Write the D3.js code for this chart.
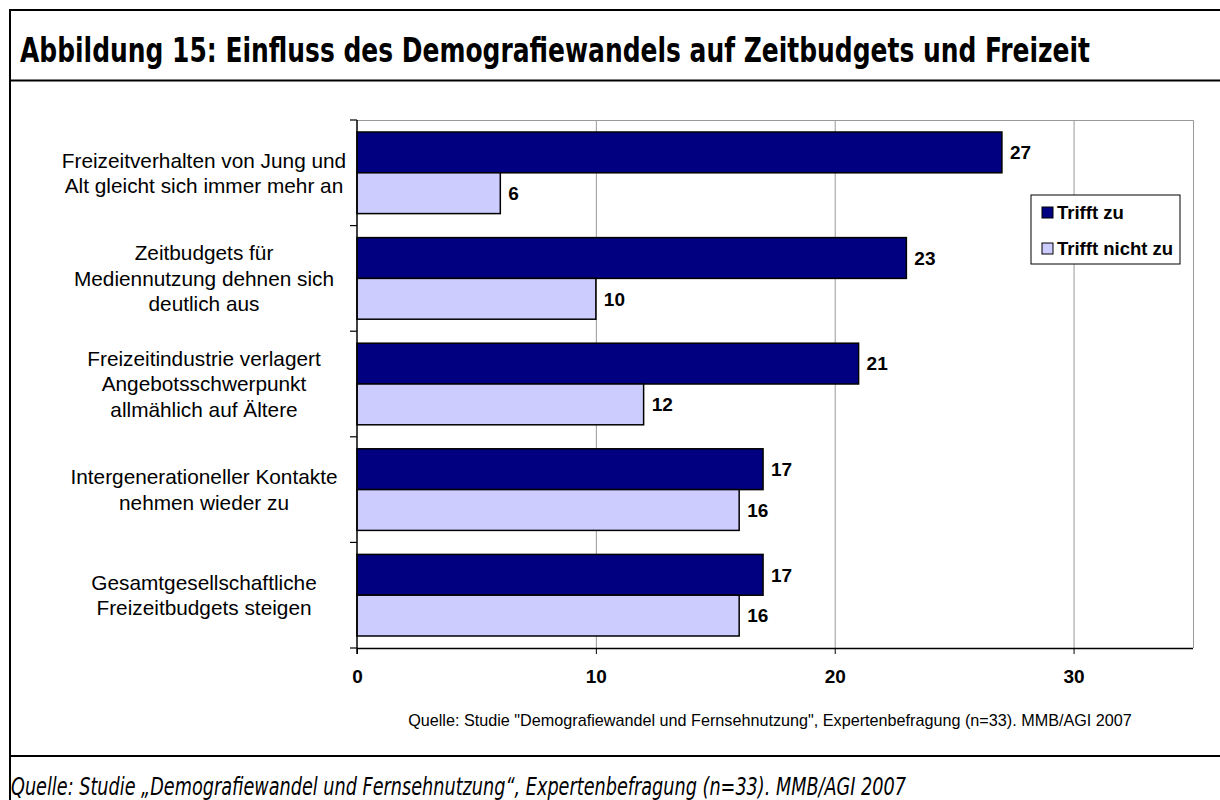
<!DOCTYPE html>
<meta charset="utf-8">
<head>
<script src="https://d3js.org/d3.v7.min.js"></script>
<style>
  body { margin: 0; background: #fff; }
  text { font-family: "Liberation Sans", Arial, sans-serif; }
</style>
</head>
<body>
<svg id="chart" width="1220" height="800"></svg>
<script>
// data
var categories = [
  ["Freizeitverhalten von Jung und", "Alt gleicht sich immer mehr an"],
  ["Zeitbudgets für", "Mediennutzung dehnen sich", "deutlich aus"],
  ["Freizeitindustrie verlagert", "Angebotsschwerpunkt", "allmählich auf Ältere"],
  ["Intergenerationeller Kontakte", "nehmen wieder zu"],
  ["Gesamtgesellschaftliche", "Freizeitbudgets steigen"]
];
var seriesNames = ["Trifft zu", "Trifft nicht zu"];
var trifftZu = [27, 23, 21, 17, 17];
var trifftNichtZu = [6, 10, 12, 16, 16];
var xTicks = [0, 10, 20, 30];
var colors = ["#000080", "#CCCCFF"];

var svg = d3.select("#chart");

// outer frame
svg.append("path")
  .attr("d", "M1222,10 H10 V800")
  .attr("fill", "none").attr("stroke", "#000").attr("stroke-width", 2);
svg.append("line").attr("x1", 10).attr("x2", 1222).attr("y1", 80.5).attr("y2", 80.5)
  .attr("stroke", "#000").attr("stroke-width", 2);
svg.append("line").attr("x1", 10).attr("x2", 1222).attr("y1", 756).attr("y2", 756)
  .attr("stroke", "#000").attr("stroke-width", 2);

svg.append("text")
  .attr("x", 20).attr("y", 62)
  .attr("textLength", 1070).attr("lengthAdjust", "spacingAndGlyphs")
  .style("font-family", "'Liberation Sans Narrow', 'DejaVu Sans Condensed', sans-serif")
  .style("font-weight", "bold").style("font-size", "34px")
  .text("Abbildung 15: Einfluss des Demografiewandels auf Zeitbudgets und Freizeit");

svg.append("text")
  .attr("x", 11).attr("y", 795)
  .attr("textLength", 895).attr("lengthAdjust", "spacingAndGlyphs")
  .style("font-family", "'Liberation Sans Narrow', 'DejaVu Sans Condensed', sans-serif")
  .style("font-style", "italic").style("font-size", "24px")
  .text("Quelle: Studie \u201EDemografiewandel und Fernsehnutzung\u201C, Expertenbefragung (n=33). MMB/AGI 2007");

// plot area
var pLeft = 357, pRight = 1193, pTop = 120, pBottom = 648;
var x = d3.scaleLinear().domain([0, 35]).range([pLeft, pRight]);
var y = d3.scaleBand().domain(d3.range(categories.length)).range([pTop, pBottom]);
var ySub = d3.scaleBand().domain([0, 1]).range([12, y.bandwidth() - 12]);

// grid
svg.append("g").selectAll("line")
  .data(xTicks.filter(function (d) { return d > 0; }))
  .enter().append("line")
  .attr("x1", function (d) { return x(d) + 0.5; })
  .attr("x2", function (d) { return x(d) + 0.5; })
  .attr("y1", pTop).attr("y2", pBottom)
  .attr("stroke", "#999").attr("stroke-width", 1);
svg.append("path")
  .attr("d", "M" + pLeft + "," + (pTop + 0.5) + " H" + (pRight + 0.5) + " V" + pBottom)
  .attr("fill", "none").attr("stroke", "#999").attr("stroke-width", 1);

// bars
var rows = categories.map(function (c, i) { return [trifftZu[i], trifftNichtZu[i]]; });
var grp = svg.append("g").selectAll("g")
  .data(rows).enter().append("g")
  .attr("transform", function (d, i) { return "translate(0," + y(i) + ")"; });

grp.selectAll("rect")
  .data(function (d) { return d; })
  .enter().append("rect")
  .attr("x", x(0))
  .attr("y", function (d, j) { return ySub(j); })
  .attr("width", function (d) { return x(d) - x(0); })
  .attr("height", ySub.bandwidth())
  .attr("fill", function (d, j) { return colors[j]; })
  .attr("stroke", "#000").attr("stroke-width", 1.5);

grp.selectAll("text")
  .data(function (d) { return d; })
  .enter().append("text")
  .attr("x", function (d) { return x(d) + 8; })
  .attr("y", function (d, j) { return ySub(j) + ySub.bandwidth() / 2; })
  .attr("dy", "0.36em")
  .style("font-weight", "bold").style("font-size", "19px")
  .text(function (d) { return d; });

// axes
var xAxis = svg.append("g")
  .attr("transform", "translate(0," + pBottom + ")")
  .call(d3.axisBottom(x).tickValues(xTicks).tickSize(6).tickSizeOuter(0).tickPadding(16));
xAxis.select(".domain").attr("d", "M" + pLeft + ",0.5H" + pRight).attr("stroke", "#000").attr("stroke-width", 1.5);
xAxis.selectAll("text").style("font-family", "'Liberation Sans', Arial, sans-serif")
  .style("font-weight", "bold").style("font-size", "19px").attr("fill", "#000");

var yTickVals = d3.range(categories.length + 1).map(function (i) { return pTop + i * y.step(); });
var yAxis = svg.append("g");
yAxis.append("line").attr("x1", pLeft).attr("x2", pLeft).attr("y1", pTop).attr("y2", pBottom + 6)
  .attr("stroke", "#000").attr("stroke-width", 1.5);
yAxis.selectAll(".tk").data(yTickVals).enter().append("line")
  .attr("x1", pLeft - 7).attr("x2", pLeft)
  .attr("y1", function (d) { return d; }).attr("y2", function (d) { return d; })
  .attr("stroke", "#000").attr("stroke-width", 1.2);

// category labels
var labels = svg.append("g").selectAll("text")
  .data(categories).enter().append("text")
  .attr("text-anchor", "middle")
  .style("font-size", "20.8px")
  .attr("y", function (d, i) {
    return y(i) + y.bandwidth() / 2 - (d.length - 1) * 25.5 / 2;
  });
labels.selectAll("tspan")
  .data(function (d) { return d; })
  .enter().append("tspan")
  .attr("x", 204)
  .attr("dy", function (d, k) { return k === 0 ? "0.36em" : "25.5px"; })
  .text(function (d) { return d; });

// legend
var lg = svg.append("g").attr("transform", "translate(1031,195)");
lg.append("rect").attr("width", 149).attr("height", 69)
  .attr("fill", "#fff").attr("stroke", "#000").attr("stroke-width", 1);
seriesNames.forEach(function (s, i) {
  lg.append("rect").attr("x", 11).attr("y", 12 + i * 36).attr("width", 11).attr("height", 11)
    .attr("fill", colors[i]).attr("stroke", "#000").attr("stroke-width", 1);
  lg.append("text").attr("x", 26).attr("y", 24 + i * 36)
    .style("font-weight", "bold").style("font-size", "18.5px").text(s);
});

// inner source note
svg.append("text")
  .attr("x", 770).attr("y", 726).attr("text-anchor", "middle")
  .style("font-size", "16.2px")
  .text("Quelle: Studie \"Demografiewandel und Fernsehnutzung\", Expertenbefragung (n=33). MMB/AGI 2007");
</script>
</body>
</html>
